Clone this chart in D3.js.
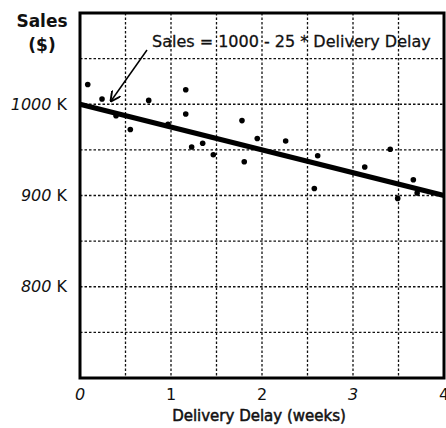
<!DOCTYPE html>
<html><head><meta charset="utf-8">
<script src="https://cdn.jsdelivr.net/npm/d3@7"></script>
<style>
html,body{margin:0;padding:0;background:#fff;overflow:hidden}
text{font-family:"DejaVu Sans","Noto Sans",sans-serif;fill:#111}
</style></head>
<body><svg id="c" width="446" height="428"></svg>
<script>
// Data
const delay = [0.085,0.242,0.396,0.553,0.755,0.967,1.162,1.162,1.227,1.348,1.465,1.780,1.805,1.948,2.260,2.575,2.612,3.129,3.409,3.491,3.663,3.705];
const sales = [1021.7,1005.7,987.4,972.4,1004.2,977.9,1015.9,989.3,953.1,957.3,944.7,982.1,937.0,962.4,959.7,907.7,943.6,931.2,950.7,896.8,917.3,902.7];
const xTicks = [0,1,2,3,4];
const yTicks = [800,900,1000];
const xGrid = [0.5,1,1.5,2,2.5,3,3.5];
const yGrid = [750,800,850,900,950,1000,1050];
const intercept = 1000, slope = -25;
const eqLabel = "Sales = 1000 - 25 * Delivery Delay";

const svg = d3.select("#c");
const x = d3.scaleLinear().domain([0,4]).range([80,444]);
const y = d3.scaleLinear().domain([700,1100]).range([378,13]);

// grid
svg.append("g").selectAll("line").data(xGrid).join("line")
  .attr("x1",d=>x(d)).attr("x2",d=>x(d)).attr("y1",y(1100)).attr("y2",y(700))
  .attr("stroke","#111").attr("stroke-width",1.3).attr("stroke-dasharray","2.5,2");
svg.append("g").selectAll("line").data(yGrid).join("line")
  .attr("y1",d=>y(d)).attr("y2",d=>y(d)).attr("x1",x(0)).attr("x2",x(4))
  .attr("stroke","#111").attr("stroke-width",1.3).attr("stroke-dasharray","2.5,2");

// frame
svg.append("rect").attr("x",x(0)).attr("y",y(1100)).attr("width",x(4)-x(0)).attr("height",y(700)-y(1100))
  .attr("fill","none").attr("stroke","#000").attr("stroke-width",3);

// points
svg.append("g").selectAll("circle").data(delay.map((d,i)=>[d,sales[i]])).join("circle")
  .attr("cx",d=>x(d[0])).attr("cy",d=>y(d[1])).attr("r",2.8).attr("fill","#000");

// regression line
svg.append("line").attr("x1",x(0)).attr("y1",y(intercept)).attr("x2",x(4)).attr("y2",y(intercept+slope*4))
  .attr("stroke","#000").attr("stroke-width",5);

// annotation
svg.append("text").attr("x",152).attr("y",41).attr("dy","0.35em").attr("font-size",16)
  .attr("stroke","#111").attr("stroke-width",0.3).text(eqLabel);
svg.append("defs").append("marker").attr("id","ah").attr("viewBox","0 0 10 10").attr("refX",9).attr("refY",5)
  .attr("markerWidth",7).attr("markerHeight",7).attr("orient","auto")
  .append("path").attr("d","M0,0 L10,5 L0,10").attr("fill","none").attr("stroke","#000").attr("stroke-width",1.8);
svg.append("line").attr("x1",147).attr("y1",50).attr("x2",111).attr("y2",101)
  .attr("stroke","#000").attr("stroke-width",1.5).attr("marker-end","url(#ah)");

// y tick labels
const yl = svg.append("g").selectAll("text").data(yTicks).join("text")
  .attr("x",67).attr("y",d=>y(d)).attr("dy","0.35em").attr("text-anchor","end").attr("font-size",16);
yl.append("tspan").attr("font-style","italic").text(d=>d);
yl.append("tspan").text(" K");

// x tick labels
svg.append("g").selectAll("text").data(xTicks).join("text")
  .attr("x",d=>x(d)).attr("y",394).attr("dy","0.35em").attr("text-anchor","middle").attr("font-size",16)
  .attr("font-style",d=>d===0||d===3?"italic":"normal").text(d=>d);

// axis titles
svg.append("text").attr("x",42).attr("y",21).attr("dy","0.35em").attr("text-anchor","middle").attr("font-size",17).attr("font-weight",700).text("Sales");
svg.append("text").attr("x",42).attr("y",45).attr("dy","0.35em").attr("text-anchor","middle").attr("font-size",17).attr("font-weight",700).text("($)");
svg.append("text").attr("x",259).attr("y",416).attr("dy","0.35em").attr("text-anchor","middle").attr("font-size",15)
  .attr("stroke","#111").attr("stroke-width",0.5).text("Delivery Delay (weeks)");
</script></body></html>
